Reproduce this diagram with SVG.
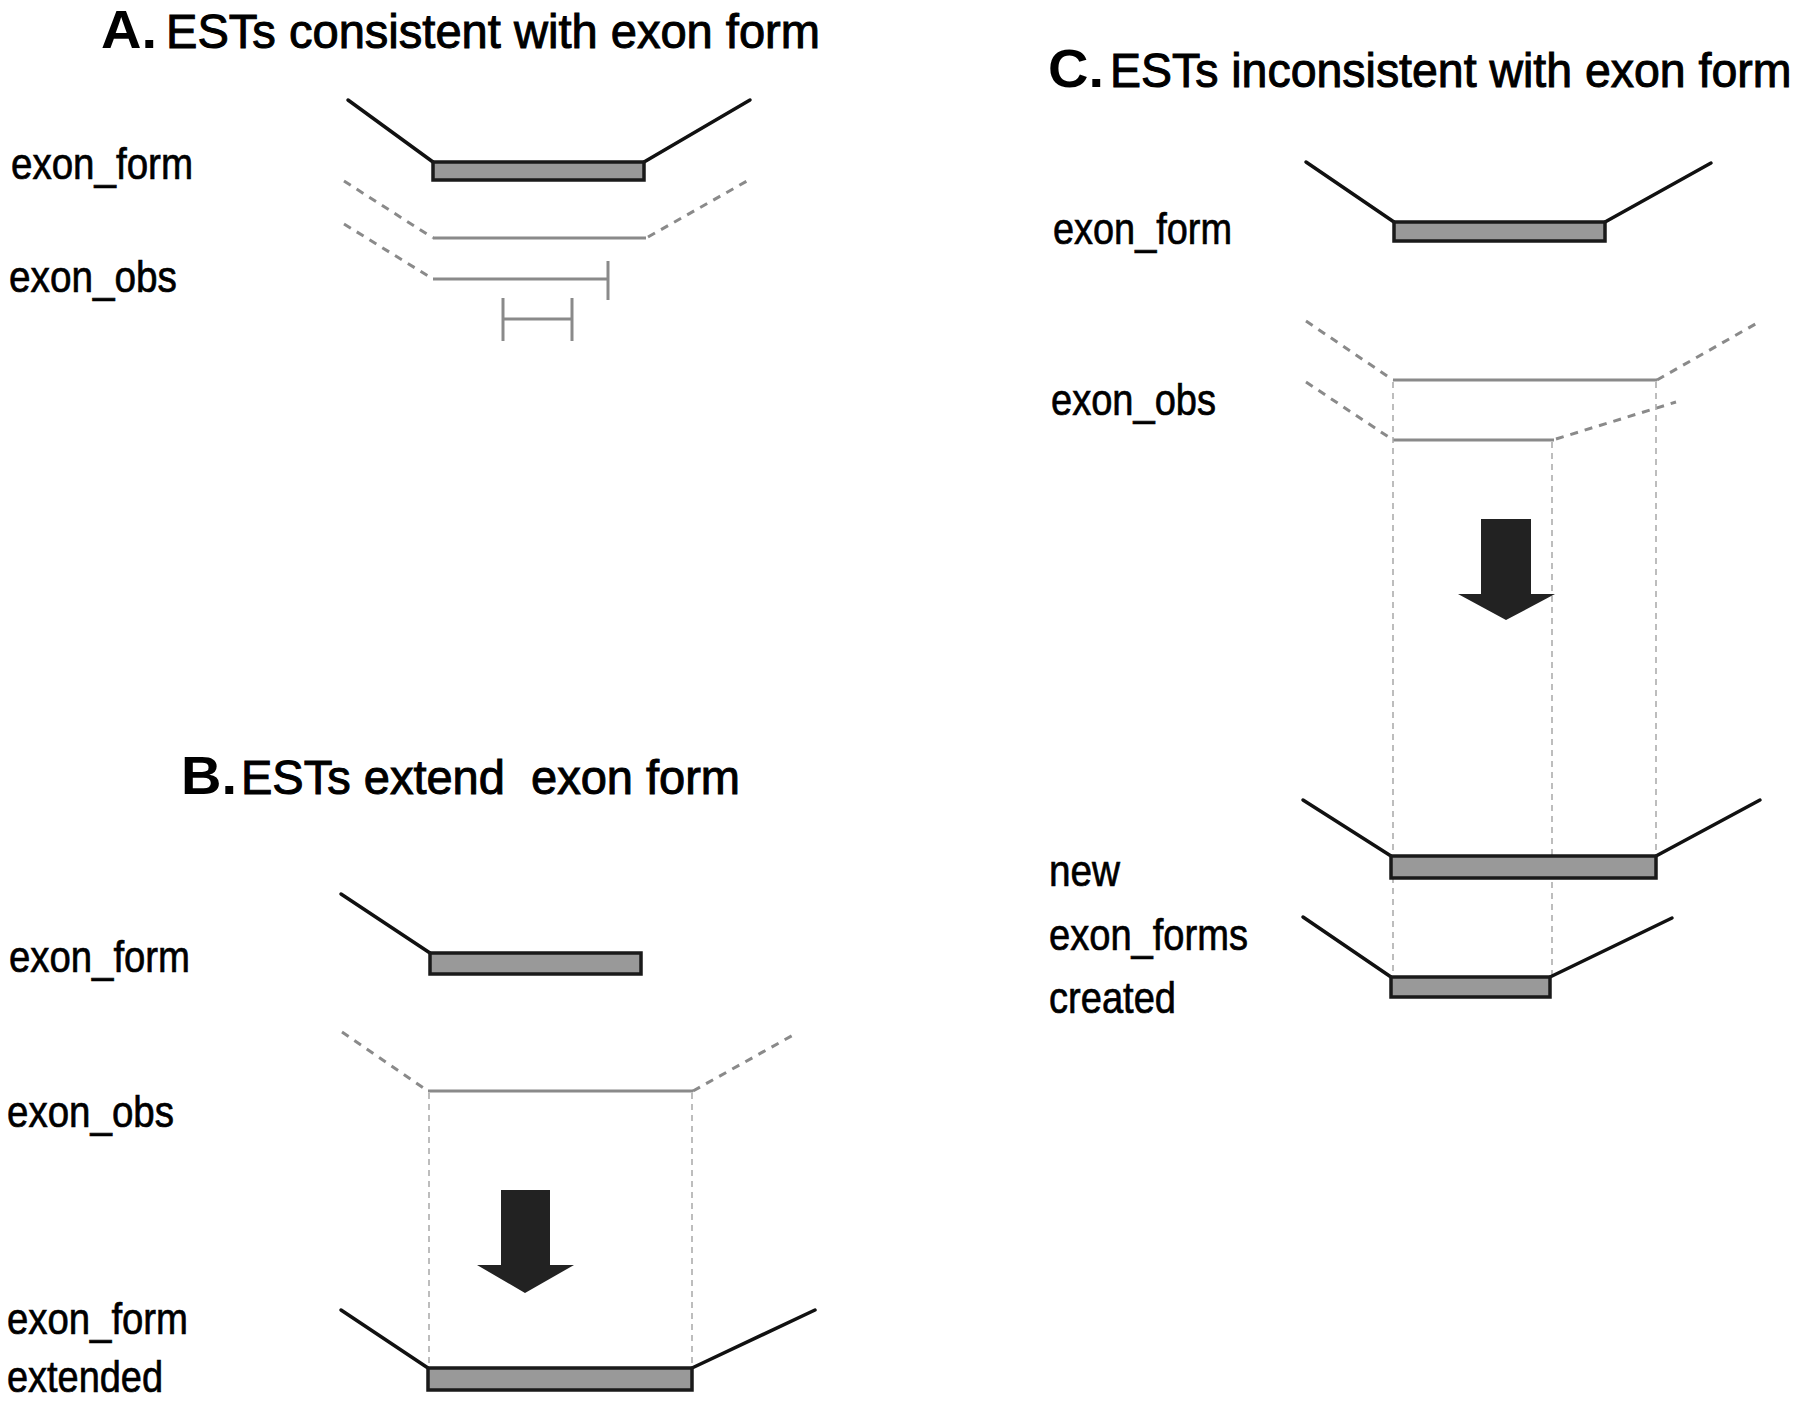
<svg xmlns="http://www.w3.org/2000/svg" width="1800" height="1403" viewBox="0 0 1800 1403">
<style>
.t{font-family:"Liberation Sans",Arial,sans-serif;fill:#000;}
.ttl{font-size:48px;stroke:#000;stroke-width:1;}
.let{font-size:54px;font-weight:bold;}
.lbl{font-size:45px;stroke:#000;stroke-width:0.7;}
.blk{stroke:#111;stroke-width:3.5;fill:none;stroke-linecap:round;}
.bar{fill:#999;stroke:#1a1a1a;stroke-width:3.5;}
.obs{stroke:#8a8a8a;stroke-width:3;fill:none;}
.obsd{stroke:#8a8a8a;stroke-width:3;fill:none;stroke-dasharray:8 7;}
.vd{stroke:#a8a8a8;stroke-width:1.5;fill:none;stroke-dasharray:6 5;}
.arr{fill:#222;}
</style>
<rect width="1800" height="1403" fill="#fff"/>

<g id="panelA">
  <text class="t let" x="101" y="48" textLength="56" lengthAdjust="spacingAndGlyphs">A.</text>
  <text class="t ttl" x="166" y="48" textLength="654" lengthAdjust="spacingAndGlyphs">ESTs consistent with exon form</text>
  <text class="t lbl" x="11" y="179" textLength="182" lengthAdjust="spacingAndGlyphs">exon_form</text>
  <text class="t lbl" x="9" y="292" textLength="168" lengthAdjust="spacingAndGlyphs">exon_obs</text>
  <g id="A_exon_form">
    <polyline class="blk" points="348,100 433,162"/>
    <polyline class="blk" points="644,162 750,100"/>
    <rect class="bar" x="433" y="162" width="211" height="18"/>
  </g>
  <g id="A_obs1">
    <line class="obsd" x1="344" y1="181" x2="433" y2="238"/>
    <line class="obs" x1="433" y1="238" x2="646" y2="238"/>
    <line class="obsd" x1="648" y1="237" x2="747" y2="181"/>
  </g>
  <g id="A_obs2">
    <line class="obsd" x1="344" y1="224" x2="433" y2="279"/>
    <line class="obs" x1="433" y1="279" x2="608" y2="279"/>
    <line class="obs" x1="608" y1="261" x2="608" y2="300"/>
  </g>
  <g id="A_obs3">
    <line class="obs" x1="503" y1="319" x2="572" y2="319"/>
    <line class="obs" x1="503" y1="298" x2="503" y2="341"/>
    <line class="obs" x1="572" y1="298" x2="572" y2="341"/>
  </g>
</g>

<g id="panelB">
  <text class="t let" x="181" y="794" textLength="56" lengthAdjust="spacingAndGlyphs">B.</text>
  <text class="t ttl" x="241" y="794" textLength="499" lengthAdjust="spacingAndGlyphs" xml:space="preserve">ESTs extend  exon form</text>
  <text class="t lbl" x="9" y="972" textLength="181" lengthAdjust="spacingAndGlyphs">exon_form</text>
  <text class="t lbl" x="7" y="1127" textLength="167" lengthAdjust="spacingAndGlyphs">exon_obs</text>
  <text class="t lbl" x="7" y="1334" textLength="181" lengthAdjust="spacingAndGlyphs">exon_form</text>
  <text class="t lbl" x="7" y="1392" textLength="156" lengthAdjust="spacingAndGlyphs">extended</text>
  <g id="B_exon_form">
    <polyline class="blk" points="341,894 430,953"/>
    <rect class="bar" x="430" y="953" width="211" height="21"/>
  </g>
  <g id="B_obs">
    <line class="obsd" x1="342" y1="1032" x2="428" y2="1091"/>
    <line class="obs" x1="428" y1="1091" x2="693" y2="1091"/>
    <line class="obsd" x1="693" y1="1091" x2="795" y2="1034"/>
  </g>
  <g id="B_connectors">
    <line class="vd" x1="429" y1="1093" x2="429" y2="1367"/>
    <line class="vd" x1="692" y1="1093" x2="692" y2="1367"/>
    <polygon class="arr" points="501,1190 550,1190 550,1265 574,1265 525,1293 477,1265 501,1265"/>
  </g>
  <g id="B_extended">
    <polyline class="blk" points="341,1310 428,1368"/>
    <polyline class="blk" points="692,1368 815,1310"/>
    <rect class="bar" x="428" y="1368" width="264" height="22"/>
  </g>
</g>

<g id="panelC">
  <text class="t let" x="1048" y="87" textLength="56" lengthAdjust="spacingAndGlyphs">C.</text>
  <text class="t ttl" transform="translate(1110,87) scale(0.968,1)" x="0" y="0">ESTs inconsistent with exon form</text>
  <text class="t lbl" x="1053" y="244" textLength="179" lengthAdjust="spacingAndGlyphs">exon_form</text>
  <text class="t lbl" x="1051" y="415" textLength="165" lengthAdjust="spacingAndGlyphs">exon_obs</text>
  <text class="t lbl" x="1049" y="886" textLength="71" lengthAdjust="spacingAndGlyphs">new</text>
  <text class="t lbl" x="1049" y="950" textLength="199" lengthAdjust="spacingAndGlyphs">exon_forms</text>
  <text class="t lbl" x="1049" y="1013" textLength="127" lengthAdjust="spacingAndGlyphs">created</text>
  <g id="C_exon_form">
    <polyline class="blk" points="1306,162 1394,222"/>
    <polyline class="blk" points="1605,222 1711,163"/>
    <rect class="bar" x="1394" y="222" width="211" height="19"/>
  </g>
  <g id="C_obs1">
    <line class="obsd" x1="1306" y1="321" x2="1393" y2="380"/>
    <line class="obs" x1="1393" y1="380" x2="1657" y2="380"/>
    <line class="obsd" x1="1657" y1="380" x2="1759" y2="322"/>
  </g>
  <g id="C_obs2">
    <line class="obsd" x1="1306" y1="382" x2="1393" y2="440"/>
    <line class="obs" x1="1393" y1="440" x2="1554" y2="440"/>
    <line class="obsd" x1="1556" y1="439" x2="1676" y2="402"/>
  </g>
  <g id="C_connectors">
    <line class="vd" x1="1393" y1="382" x2="1393" y2="976"/>
    <line class="vd" x1="1552" y1="442" x2="1552" y2="976"/>
    <line class="vd" x1="1656" y1="382" x2="1656" y2="856"/>
    <polygon class="arr" points="1481,519 1531,519 1531,594 1555,594 1506,620 1458,594 1481,594"/>
  </g>
  <g id="C_new1">
    <polyline class="blk" points="1303,800 1391,856"/>
    <polyline class="blk" points="1656,856 1760,800"/>
    <rect class="bar" x="1391" y="856" width="265" height="22"/>
  </g>
  <g id="C_new2">
    <polyline class="blk" points="1303,917 1391,977"/>
    <polyline class="blk" points="1550,977 1672,918"/>
    <rect class="bar" x="1391" y="977" width="159" height="20"/>
  </g>
</g>
</svg>
